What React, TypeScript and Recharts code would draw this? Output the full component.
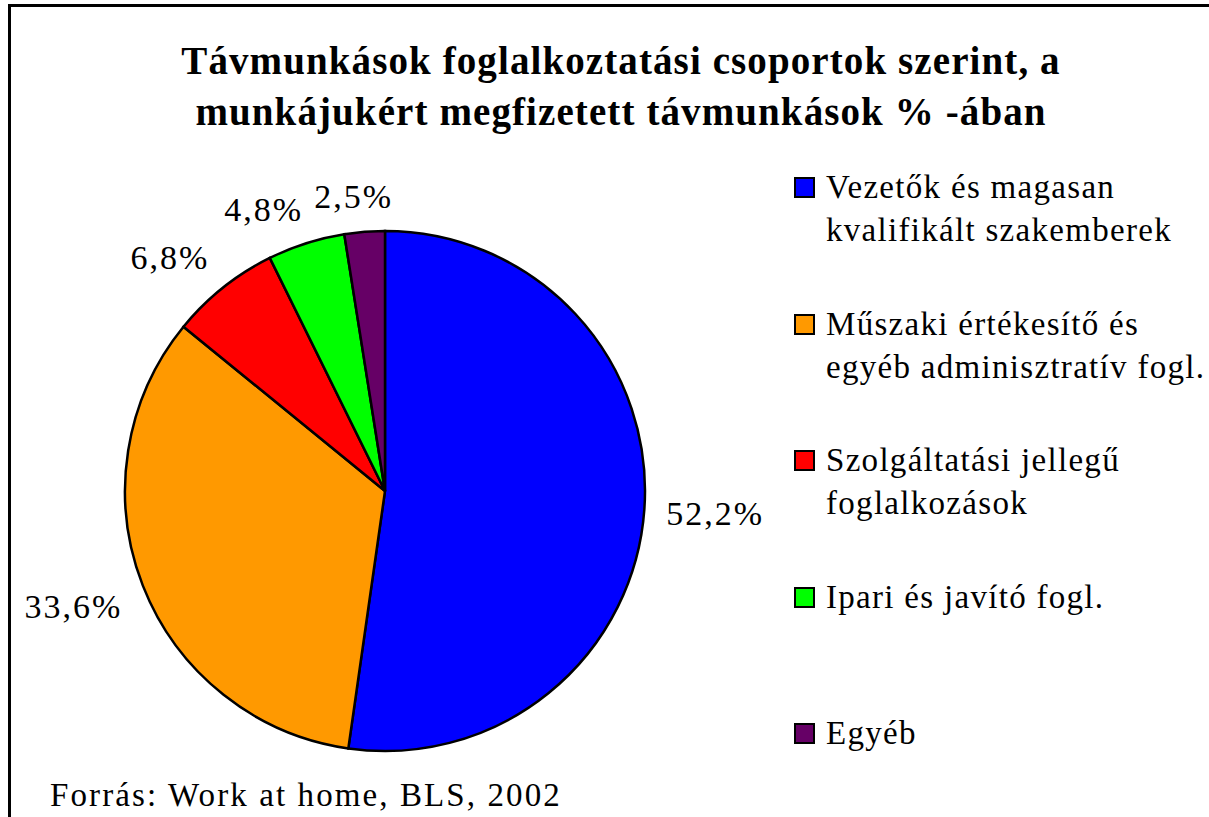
import React from 'react';
import { PieChart, Pie, Cell, Legend } from 'recharts';

const categories = [
    'Vezetők és magasan kvalifikált szakemberek',
    'Műszaki értékesítő és egyéb adminisztratív fogl.',
    'Szolgáltatási jellegű foglalkozások',
    'Ipari és javító fogl.',
    'Egyéb',
];
// legend text is broken the same way as in the original
const legendLines = [
    ['Vezetők és magasan', 'kvalifikált szakemberek'],
    ['Műszaki értékesítő és', 'egyéb adminisztratív fogl.'],
    ['Szolgáltatási jellegű', 'foglalkozások'],
    ['Ipari és javító fogl.'],
    ['Egyéb'],
];
const shares = [52.2, 33.6, 6.8, 4.8, 2.5];
const colors = ['#0000FF', '#FF9900', '#FF0000', '#00FF00', '#660066'];

const data = categories.map((name, i) => ({ name, value: shares[i] }));

const FONT = "'Liberation Serif', 'Times New Roman', Times, serif";
const RADIAN = Math.PI / 180;
const clamp = (v: number) => Math.max(-1, Math.min(1, v));

const fmt = (v: number) => v.toFixed(1).replace('.', ',') + '%';

const renderLabel = (props: any) => {
    const { cx, cy, midAngle, outerRadius, value } = props;
    const fs = 34;
    const text = fmt(value);
    const digits = text.replace(/[^0-9]/g, '').length;
    const w = (digits * 0.5 + 0.25 + 0.833) * fs + text.length * 2;
    const h = 26;
    const cos = Math.cos(-midAngle * RADIAN);
    const sin = Math.sin(-midAngle * RADIAN);
    const r = outerRadius + 22;
    const ax = cx + r * cos;
    const ay = cy + r * sin;
    const x = ax + clamp(3 * cos) * w / 2;
    const y = ay + clamp(3 * sin) * h / 2;
    return (
        <text x={x} y={y} textAnchor="middle" dominantBaseline="central" fill="#000"
            style={{ fontFamily: FONT, fontSize: fs, letterSpacing: 2 }}>
            {text}
        </text>
    );
};

const LegendBox = (props: any) => {
    // recharts hands the pie entries over in reverse, put them back in data order
    const payload = [...(props.payload || [])].sort(
        (a: any, b: any) => categories.indexOf(a.value) - categories.indexOf(b.value)
    );
    return (
        <div style={{ fontFamily: FONT, fontSize: 33, lineHeight: '43px', letterSpacing: 1.3, color: '#000' }}>
            {payload.map((entry: any) => {
                const idx = categories.indexOf(entry.value);
                return (
                    <div key={entry.value} style={{ position: 'relative', height: 136.5 }}>
                        <div style={{
                            position: 'absolute', left: 0, top: 11, width: 17, height: 17,
                            background: colors[idx], border: '2px solid #000',
                        }} />
                        <div style={{ position: 'absolute', left: 32, top: 0, whiteSpace: 'nowrap' }}>
                            {(legendLines[idx] || [entry.value]).map((l, k) => <div key={k}>{l}</div>)}
                        </div>
                    </div>
                );
            })}
        </div>
    );
};

export default function App() {
    return (
        <div style={{ position: 'absolute', left: 0, top: 0, width: 1209, height: 817, background: '#fff', overflow: 'hidden' }}>
            <div style={{ position: 'absolute', left: 8, top: 4, width: 1300, height: 900, borderLeft: '3px solid #000', borderTop: '3px solid #000' }} />
            <div style={{
                position: 'absolute', left: 121, top: 35, width: 1000, textAlign: 'center',
                fontFamily: FONT, fontWeight: 'bold', fontSize: 39, lineHeight: '51px',
                letterSpacing: 1.1, color: '#000',
            }}>
                <div>Távmunkások foglalkoztatási csoportok szerint, a</div>
                <div>munkájukért megfizetett távmunkások % -ában</div>
            </div>
            <div style={{ position: 'absolute', left: 0, top: 0 }}>
                <PieChart width={1209} height={817} margin={{ top: 0, right: 0, bottom: 0, left: 0 }}>
                    <Pie
                        data={data}
                        dataKey="value"
                        nameKey="name"
                        cx={385}
                        cy={491}
                        outerRadius={260}
                        startAngle={90}
                        endAngle={-270}
                        stroke="#000"
                        strokeWidth={2.5}
                        label={renderLabel}
                        labelLine={false}
                        isAnimationActive={false}
                    >
                        {data.map((d, i) => <Cell key={d.name} fill={colors[i]} />)}
                    </Pie>
                    <Legend
                        layout="vertical"
                        align="right"
                        verticalAlign="top"
                        content={<LegendBox />}
                        wrapperStyle={{ position: 'absolute', left: 794, top: 166, width: 415, right: 'auto', bottom: 'auto' }}
                    />
                </PieChart>
            </div>
            <div style={{
                position: 'absolute', left: 50, top: 774, fontFamily: FONT, fontSize: 33,
                lineHeight: '43px', letterSpacing: 2.1, color: '#000', whiteSpace: 'nowrap',
            }}>
                Forrás: Work at home, BLS, 2002
            </div>
        </div>
    );
}
